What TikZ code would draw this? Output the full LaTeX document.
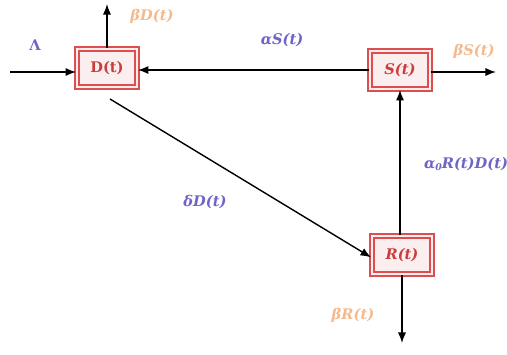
\documentclass[tikz,border=0pt]{standalone}
\usepackage{fontspec}
\setmainfont{DejaVu Serif}
\usetikzlibrary{arrows.meta}
\definecolor{boxred}{RGB}{222,78,78}
\definecolor{boxfill}{RGB}{250,238,238}
\definecolor{txtred}{RGB}{205,60,60}
\definecolor{lblpurple}{RGB}{110,100,200}
\definecolor{lblorange}{RGB}{245,185,140}
\begin{document}
\begin{tikzpicture}[x=0.03cm,y=-0.03cm,
  statebox/.style={draw=boxred,line width=1.6pt,double=boxfill,double distance=1.1pt,fill=boxfill,minimum width=60*0.03cm,minimum height=38*0.03cm,inner sep=1pt,text=txtred,font=\bfseries\fontsize{12.5}{14}\selectfont},
  flow/.style={-{Latex[length=9pt,width=7pt]},line width=1.2pt,black},
  lblp/.style={text=lblpurple,font=\bfseries\itshape\fontsize{12.5}{14}\selectfont},
  lblo/.style={text=lblorange,font=\bfseries\itshape\fontsize{12.5}{14}\selectfont}]
\useasboundingbox (0,0) rectangle (507,354);
\node[statebox] (D) at (107,68) {D(t)};
\node[statebox] (S) at (400,70) {\itshape S(t)};
\node[statebox] (R) at (402,255) {\itshape R(t)};
\coordinate (inL) at (10,72);
\coordinate (Dup) at (107,4);
\coordinate (Sout) at (496,72);
\coordinate (Rdown) at (402,343);
\coordinate (diagS) at (110,99);
\draw[flow] (inL) -- (D.west |- inL);
\draw[flow] (D.north) -- (Dup);
\draw[flow] (S.west) -- (D.east |- S.west);
\draw[flow] (S.east |- Sout) -- (Sout);
\draw[flow] (R.north -| S.south) -- (S.south);
\draw[flow] (diagS) -- ([yshift=-2]R.west);
\draw[flow] (R.south) -- (Rdown);
\node[lblp,font=\bfseries\fontsize{12.5}{14}\selectfont] (lL) at (35,45) {Λ};
\node[lblo] (lbD) at (152,16) {βD(t)};
\node[lblp] (laS) at (282,40) {αS(t)};
\node[lblo] (lbS) at (474,51) {βS(t)};
\node[lblp] (la0) at (466,164) {α\raisebox{-0.3ex}{\footnotesize 0}R(t)D(t)};
\node[lblp] (ldD) at (205,202) {δD(t)};
\node[lblo] (lbR) at (353,315) {βR(t)};
\end{tikzpicture}
\end{document}
